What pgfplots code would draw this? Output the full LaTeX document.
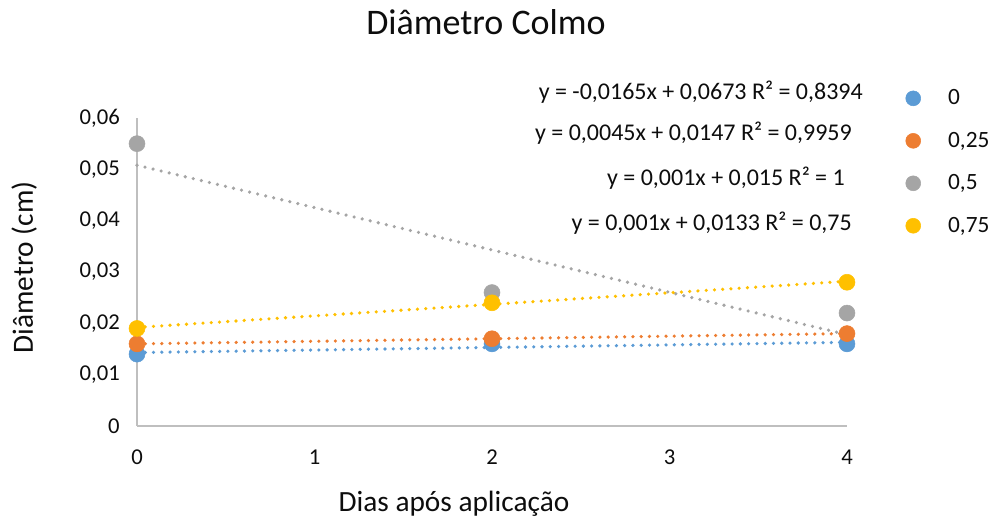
\documentclass[border=0pt]{standalone}
\usepackage{pgfplots}
\pgfplotsset{compat=1.18}
\usepackage{fontspec}
\setmainfont{Carlito}
\definecolor{cBlue}{HTML}{5B9BD5}
\definecolor{cOrange}{HTML}{ED7D31}
\definecolor{cGray}{HTML}{A5A5A5}
\definecolor{cYellow}{HTML}{FFC000}
\definecolor{axisgray}{HTML}{BFBFBF}
\definecolor{txt}{HTML}{0D0D0D}
\newcommand{\PX}[2]{({((#1)-137)*0.75pt},{(426-(#2))*0.75pt})}
\begin{document}
\begin{tikzpicture}
\useasboundingbox \PX{0}{0} rectangle \PX{993}{520};
\begin{axis}[
  at={(0,0)}, anchor=south west,
  scale only axis, width=532.5pt, height=231pt,
  xmin=0, xmax=4, ymin=0, ymax=0.06,
  axis x line*=bottom, axis y line*=left,
  axis line style={axisgray, line width=1.5pt, -},
  major tick length=0pt, tick style={draw=none},
  scaled y ticks=false, scaled x ticks=false,
  xtick={0,1,2,3,4}, xticklabels={0,1,2,3,4},
  ytick={0,0.01,0.02,0.03,0.04,0.05,0.06},
  yticklabels={0,{0,01},{0,02},{0,03},{0,04},{0,05},{0,06}},
  ticklabel style={font=\fontsize{17}{20}\selectfont, text=txt},
  yticklabel style={anchor=east, inner sep=0pt, xshift=-12.75pt},
  xticklabel style={anchor=north, inner sep=0pt, yshift=-17.6pt},
  clip=false,
  legend image code/.code={\draw[#1, mark size=5.6pt] plot coordinates {(0pt,0pt)};},
  legend style={draw=none, fill=none, inner sep=0pt,
    at={(rel axis cs:1.0824,1.0925)}, anchor=north west,
    font=\fontsize{17.5}{20}\selectfont, text=txt,
    nodes={inner sep=0pt}, row sep=19pt,
    /tikz/every odd column/.append style={column sep=20.6pt}},
  legend cell align=left,
]
\addplot[only marks, mark=*, mark size=6pt, color=cBlue] coordinates {(0,0.014)(2,0.016)(4,0.016)};
\addlegendentry{0}
\addplot[only marks, mark=*, mark size=6pt, color=cOrange] coordinates {(0,0.016)(2,0.017)(4,0.018)};
\addlegendentry{0,25}
\addplot[only marks, mark=*, mark size=6pt, color=cGray] coordinates {(0,0.055)(2,0.026)(4,0.022)};
\addlegendentry{0,5}
\addplot[only marks, mark=*, mark size=6pt, color=cYellow] coordinates {(0,0.019)(2,0.024)(4,0.028)};
\addlegendentry{0,75}
% trendlines
\addplot[forget plot, cBlue, line width=2.7pt, line cap=round, dash pattern=on 0pt off 6.2pt] coordinates {(0,0.0143)(4,0.0163)};
\addplot[forget plot, cOrange, line width=2.7pt, line cap=round, dash pattern=on 0pt off 6.2pt] coordinates {(0,0.016)(4,0.018)};
\addplot[forget plot, cGray, line width=2.7pt, line cap=round, dash pattern=on 0pt off 6.2pt] coordinates {(0,0.0508)(4,0.0178)};
\addplot[forget plot, cYellow, line width=2.7pt, line cap=round, dash pattern=on 0pt off 6.2pt] coordinates {(0,0.0192)(4,0.0282)};
\end{axis}
\node[anchor=base, font=\fontsize{27}{30}\selectfont, text=txt] at \PX{486}{35} {Diâmetro Colmo};
\node[anchor=base, font=\fontsize{22}{26}\selectfont, text=txt] at \PX{454}{512} {Dias após aplicação};
\node[anchor=base, rotate=90, font=\fontsize{22}{26}\selectfont, text=txt] at \PX{33}{267.5} {Diâmetro (cm)};
\node[anchor=east, font=\fontsize{18}{20}\selectfont, text=txt, inner sep=0pt] at \PX{863}{92} {y = -0,0165x + 0,0673 R² = 0,8394};
\node[anchor=east, font=\fontsize{18}{20}\selectfont, text=txt, inner sep=0pt] at \PX{852}{133} {y = 0,0045x + 0,0147 R² = 0,9959};
\node[anchor=east, font=\fontsize{18}{20}\selectfont, text=txt, inner sep=0pt] at \PX{845}{178} {y = 0,001x + 0,015 R² = 1};
\node[anchor=east, font=\fontsize{18}{20}\selectfont, text=txt, inner sep=0pt] at \PX{852}{223} {y = 0,001x + 0,0133 R² = 0,75};
\end{tikzpicture}
\end{document}
